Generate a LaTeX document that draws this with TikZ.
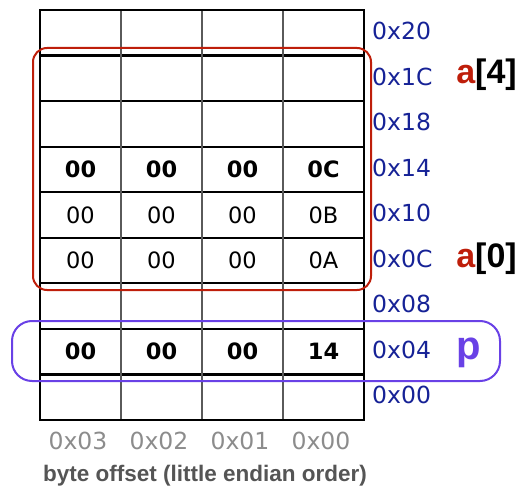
\documentclass[tikz,border=0pt]{standalone}
\usepackage{fontspec}
\setmainfont{DejaVu Sans}
\newfontfamily\arialfont{Liberation Sans}
\definecolor{addrblue}{RGB}{22,34,150}
\definecolor{boxred}{RGB}{190,30,10}
\definecolor{boxpurple}{RGB}{105,65,230}
\definecolor{offgray}{RGB}{140,140,140}
\definecolor{capgray}{RGB}{85,85,85}
\definecolor{vgray}{RGB}{90,90,90}
\begin{document}
\begin{tikzpicture}[x=1pt,y=-1pt,
  cell/.style={inner sep=0pt,font=\fontsize{22.5}{22.5}\selectfont},
  bcell/.style={inner sep=0pt,font=\fontsize{22.5}{22.5}\selectfont\bfseries},
  addr/.style={inner sep=0pt,anchor=west,text=addrblue,font=\fontsize{23.5}{23.5}\selectfont},
  off/.style={inner sep=0pt,text=offgray,font=\fontsize{23.5}{23.5}\selectfont},
  varlbl/.style={inner sep=0pt,font=\arialfont\fontsize{34}{34}\selectfont\bfseries},
  hline/.style={line width=2.2pt,black},
  vline/.style={line width=1.8pt,vgray}]
\useasboundingbox (0,0) rectangle (522,487);
% grid
\foreach \i in {1,...,8} {
  \draw[hline] (40,{10+45.556*\i}) -- (364,{10+45.556*\i});
}
\foreach \x in {121,202,283} {
  \draw[vline] (\x,10) -- (\x,420);
}
\draw[line width=2.8pt,black] (40,10) rectangle (364,420);
% cell texts
\node[bcell] (r3c1) at (80.5,169.4) {00};
\node[bcell] (r3c2) at (161.5,169.4) {00};
\node[bcell] (r3c3) at (242.5,169.4) {00};
\node[bcell] (r3c4) at (323.5,169.4) {0C};
\node[cell] (r4c1) at (80.5,215) {00};
\node[cell] (r4c2) at (161.5,215) {00};
\node[cell] (r4c3) at (242.5,215) {00};
\node[cell] (r4c4) at (323.5,215) {0B};
\node[cell] (r5c1) at (80.5,260.6) {00};
\node[cell] (r5c2) at (161.5,260.6) {00};
\node[cell] (r5c3) at (242.5,260.6) {00};
\node[cell] (r5c4) at (323.5,260.6) {0A};
\node[bcell] (r7c1) at (80.5,351.7) {00};
\node[bcell] (r7c2) at (161.5,351.7) {00};
\node[bcell] (r7c3) at (242.5,351.7) {00};
\node[bcell] (r7c4) at (323.5,351.7) {14};
% addresses
\node[addr] (a20) at (372,31) {0x20};
\node[addr] (a1c) at (372,76.5) {0x1C};
\node[addr] (a18) at (372,122) {0x18};
\node[addr] (a14) at (372,167.5) {0x14};
\node[addr] (a10) at (372,213) {0x10};
\node[addr] (a0c) at (372,258.5) {0x0C};
\node[addr] (a08) at (372,304) {0x08};
\node[addr] (a04) at (372,349.5) {0x04};
\node[addr] (a00) at (372,395) {0x00};
% byte offsets
\node[off] (o3) at (78,441) {0x03};
\node[off] (o2) at (159,441) {0x02};
\node[off] (o1) at (240,441) {0x01};
\node[off] (o0) at (321,441) {0x00};
\node[inner sep=0pt,text=capgray,font=\arialfont\fontsize{22.5}{22.5}\selectfont\bfseries] (cap) at (205,476) {byte offset (little endian order)};
% boxes
\draw[boxred,line width=2pt,rounded corners=14pt] (33,48) rectangle (371,290);
\draw[boxpurple,line width=2pt,rounded corners=20pt] (12,321) rectangle (500,381);
% variable labels
\node[varlbl] (v4) at (486.5,75) {\textcolor{boxred}{a}[4]};
\node[varlbl] (v0) at (486.5,259) {\textcolor{boxred}{a}[0]};
\node[varlbl,text=boxpurple,font=\arialfont\fontsize{40}{40}\selectfont\bfseries] (vp) at (469,353) {p};
\end{tikzpicture}
\end{document}
